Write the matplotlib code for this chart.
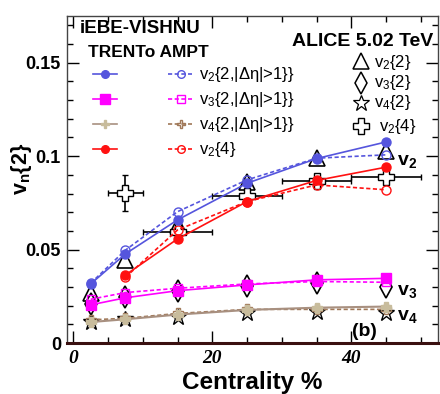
import matplotlib
matplotlib.use('Agg')
import matplotlib.pyplot as plt
from matplotlib.lines import Line2D
from matplotlib.ticker import MultipleLocator

plt.rcParams['font.family'] = ['Liberation Sans', 'DejaVu Sans']
plt.rcParams['mathtext.fontset'] = 'custom'
plt.rcParams['mathtext.rm'] = 'Liberation Sans'
plt.rcParams['mathtext.it'] = 'Liberation Sans:italic'
plt.rcParams['mathtext.bf'] = 'Liberation Sans:bold'

# ---------------- data ----------------
cent = [2.5, 7.5, 15, 25, 35, 45]
cent_v24 = [7.5, 15, 25, 35, 45]
cent_lo = [5, 10, 20, 30, 40]
cent_hi = [10, 20, 30, 40, 50]

trento_v22 = [0.0316, 0.0477, 0.0659, 0.0855, 0.0987, 0.1076]
ampt_v22 = [0.0320, 0.0497, 0.0703, 0.0873, 0.0989, 0.1007]
trento_v24 = [0.0364, 0.0557, 0.0757, 0.0870, 0.0941]
ampt_v24 = [0.0352, 0.0605, 0.0757, 0.0846, 0.0820]
trento_v32 = [0.0204, 0.0242, 0.0280, 0.0311, 0.0338, 0.0346]
ampt_v32 = [0.0234, 0.0270, 0.0293, 0.0316, 0.0329, 0.0325]
trento_v42 = [0.0112, 0.0127, 0.0152, 0.0177, 0.0189, 0.0195]
ampt_v42 = [0.0124, 0.0132, 0.0158, 0.0180, 0.0180, 0.0180]

alice_v22 = [0.0266, 0.0445, 0.0632, 0.0864, 0.0990, 0.1030]
alice_v32 = [0.0210, 0.0246, 0.0280, 0.0305, 0.0323, 0.0302]
alice_v42 = [0.0114, 0.0127, 0.0138, 0.0159, 0.0168, 0.0159]
alice_v24 = [0.0805, 0.0596, 0.0787, 0.0866, 0.0891]
alice_v24_err = [0.0096, 0.0010, 0.0010, 0.0010, 0.0010]

legend_theory = [r'v$_2${2,|Δη|>1}}', r'v$_3${2,|Δη|>1}}', r'v$_4${2,|Δη|>1}}', r'v$_2${4}']
legend_alice = [r'v$_2${2}', r'v$_3${2}', r'v$_4${2}', r'v$_2${4}']

# ---------------- styles ----------------
BLUE = '#5555dd'
RED = '#ff1111'
MAG = '#ff00ff'
BR_S = '#a89080'
BR_M = '#c8bc9c'
BR_D = '#a07858'
DASH = (0, (2.5, 1.5))

W, H = 440, 394
fig = plt.figure(figsize=(4.4, 3.94), dpi=100)
x0, x1, ytop, ybot = 66.5, 437.5, 16, 343
ax = fig.add_axes([x0 / W, (H - ybot) / H, (x1 - x0) / W, (ybot - ytop) / H])

def fx(px):
    return (px - x0) / (x1 - x0)

def fy(py):
    return (ybot - py) / (ybot - ytop)

# ALICE data (drawn first)
xerr = [[c - lo for c, lo in zip(cent_v24, cent_lo)], [hi - c for c, hi in zip(cent_v24, cent_hi)]]
ax.errorbar(cent_v24, alice_v24, xerr=xerr, yerr=alice_v24_err, fmt='P', ms=11,
            mfc='white', mec='black', mew=1.0, ecolor='black', elinewidth=1.2,
            capsize=2, capthick=1.2, zorder=2)
ax.plot(cent, alice_v22, ls='none', marker='^', ms=11.5, mfc='none', mec='black', mew=1.2, zorder=2)
ax.plot(cent, alice_v32, ls='none', marker='d', ms=11, mfc='none', mec='black', mew=1.2, zorder=2)
ax.plot(cent, alice_v42, ls='none', marker='*', ms=12, mfc='none', mec='black', mew=1.0, zorder=2)

# AMPT (dashed, open)
ax.plot(cent, ampt_v22, ls=DASH, color=BLUE, lw=1.2, marker='o', ms=6.5, mfc='none', mec=BLUE, zorder=3)
ax.plot(cent, ampt_v32, ls=DASH, color=MAG, lw=1.2, marker='s', ms=6, mfc='none', mec=MAG, zorder=3)
ax.plot(cent, ampt_v42, ls=DASH, color=BR_D, lw=1.2, marker='P', ms=7, mfc='none', mec=BR_D, zorder=3)
ax.plot(cent_v24, ampt_v24, ls=DASH, color=RED, lw=1.2, marker='o', ms=6.5, mfc='none', mec=RED, zorder=3)

# TRENTo (solid, filled)
ax.plot(cent, trento_v22, ls='-', color=BLUE, lw=1.2, marker='o', ms=6.5, mfc=BLUE, mec=BLUE, zorder=4)
ax.plot(cent, trento_v32, ls='-', color=MAG, lw=1.2, marker='s', ms=6.5, mfc=MAG, mec=MAG, zorder=4)
ax.plot(cent, trento_v42, ls='-', color=BR_S, lw=1.5, marker='P', ms=7, mfc=BR_M, mec=BR_M, zorder=4)
ax.plot(cent_v24, trento_v24, ls='-', color=RED, lw=1.2, marker='o', ms=6.5, mfc=RED, mec=RED, zorder=4)

ax.set_xlim(-0.98, 52.4)
ax.set_ylim(0, 0.175)

# ticks
ax.xaxis.set_major_locator(MultipleLocator(20))
ax.xaxis.set_minor_locator(MultipleLocator(5))
ax.yaxis.set_major_locator(MultipleLocator(0.05))
ax.yaxis.set_minor_locator(MultipleLocator(0.01))
ax.tick_params(which='both', direction='in', top=True, right=True, width=1.0, color='black')
ax.tick_params(which='major', length=8.5)
ax.tick_params(which='minor', length=4.3)
ax.tick_params(axis='y', which='major', pad=4)
ax.tick_params(axis='x', which='major', pad=5)
ax.set_yticks([0, 0.05, 0.1, 0.15])
ax.set_yticklabels(['0', '0.05', '0.1', '0.15'], fontsize=13, fontweight='bold')
ax.set_xticks([0, 20, 40])
ax.set_xticklabels(['0', '20', '40'], fontsize=14, fontweight='bold',
                   fontstyle='italic', family='Liberation Serif')
for s in ['left', 'top', 'right']:
    ax.spines[s].set_color('#444444')
    ax.spines[s].set_linewidth(1.0)
ax.spines['bottom'].set_color('#3a1010')
ax.spines['bottom'].set_linewidth(2.2)

ax.set_xlabel('Centrality %', fontsize=17.5, fontweight='bold', labelpad=3)
fig.text(21 / W, 1 - 169 / H, r'v$_\mathbf{n}${2}', rotation=90, fontsize=15.5,
         fontweight='bold', ha='center', va='center')

# ---------------- annotations ----------------
T = ax.transAxes
ax.text(fx(80), fy(33), 'iEBE-VISHNU', transform=T, fontsize=13.5, fontweight='bold', va='baseline')
ax.text(fx(88), fy(57), 'TRENTo AMPT', transform=T, fontsize=12.5, fontweight='bold', va='baseline')
ax.text(fx(292), fy(46), 'ALICE 5.02 TeV', transform=T, fontsize=14, fontweight='bold', va='baseline')

rows = [74, 99, 124, 149]
solid_sty = [dict(color=BLUE, marker='o', mfc=BLUE, mec=BLUE, ms=5.5),
             dict(color=MAG, marker='s', mfc=MAG, mec=MAG, ms=6.5),
             dict(color=BR_S, marker='P', mfc=BR_M, mec=BR_M, ms=6),
             dict(color=RED, marker='o', mfc=RED, mec=RED, ms=5.5)]
dash_sty = [dict(color=BLUE, marker='o', mfc='none', mec=BLUE, ms=5.5),
            dict(color=MAG, marker='s', mfc='none', mec=MAG, ms=5.5),
            dict(color=BR_D, marker='P', mfc='none', mec=BR_D, ms=6),
            dict(color=RED, marker='o', mfc='none', mec=RED, ms=5.5)]
for r, ss, ds, lab in zip(rows, solid_sty, dash_sty, legend_theory):
    ax.add_line(Line2D([fx(93), fx(117)], [fy(r), fy(r)], transform=T, ls='-', lw=1.2,
                       color=ss['color']))
    ax.add_line(Line2D([fx(105)], [fy(r)], transform=T, ls='none', **ss))
    ax.add_line(Line2D([fx(168), fx(192)], [fy(r), fy(r)], transform=T, ls=DASH, lw=1.2,
                       color=ds['color']))
    ax.add_line(Line2D([fx(180.5)], [fy(r)], transform=T, ls='none', **ds))
    ax.text(fx(199), fy(r + 5), lab, transform=T, fontsize=12, va='baseline')

arows = [61, 82.5, 103, 126]
abase = [66.5, 87, 107.5, 130.5]
amark = [dict(marker='^', ms=11.5, mew=1.1), dict(marker='d', ms=11, mew=1.1),
         dict(marker='*', ms=12, mew=0.9), dict(marker='P', ms=11, mew=1.0)]
atx = [374, 374, 374, 379]
for r, b, m, lab, tx in zip(arows, abase, amark, legend_alice, atx):
    ax.add_line(Line2D([fx(361)], [fy(r)], transform=T, ls='none', mfc='none', mec='black', **m))
    ax.text(fx(tx), fy(b), lab, transform=T, fontsize=12, va='baseline')

ax.text(fx(397), fy(165), r'v$_\mathbf{2}$', transform=T, fontsize=14, fontweight='bold', va='baseline')
ax.text(fx(397), fy(295), r'v$_\mathbf{3}$', transform=T, fontsize=14, fontweight='bold', va='baseline')
ax.text(fx(397), fy(320), r'v$_\mathbf{4}$', transform=T, fontsize=14, fontweight='bold', va='baseline')
ax.text(fx(352), fy(336), '(b)', transform=T, fontsize=14, fontweight='bold', va='baseline')

fig.savefig('out.png', dpi=100)
